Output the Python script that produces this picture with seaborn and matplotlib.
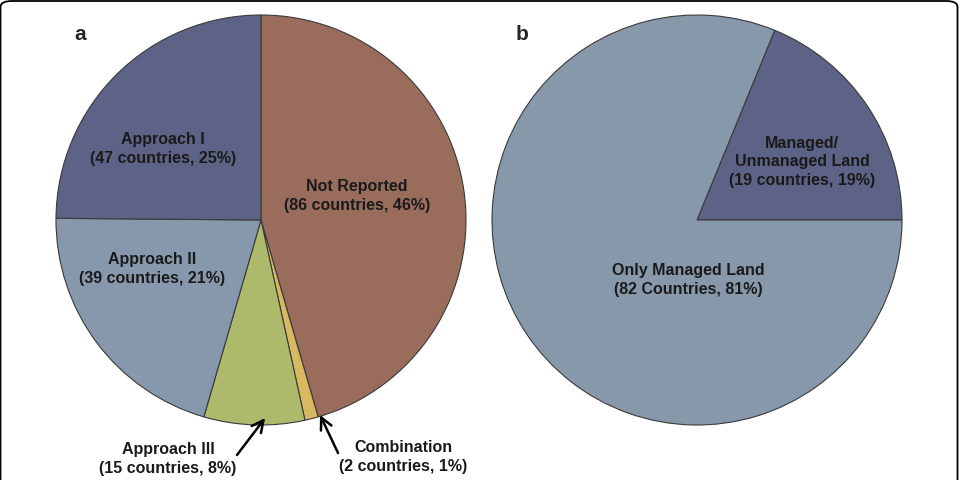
import numpy as np
import seaborn as sns
import matplotlib.pyplot as plt
from matplotlib.patches import FancyBboxPatch

# Data
a_labels = ["Not Reported", "Combination", "Approach III", "Approach II", "Approach I"]
a_counts = [86, 2, 15, 39, 47]
a_pcts = [46, 1, 8, 21, 25]
a_colors = ["#9a6c5b", "#d8b860", "#adba6b", "#8798ad", "#5d6386"]

b_labels = ["Managed/\nUnmanaged Land", "Only Managed Land"]
b_counts = [19, 82]
b_pcts = [19, 81]
b_word = ["countries", "Countries"]
b_colors = ["#5d6386", "#8898ab"]

sns.set_theme(style="white")
plt.rcParams['font.family'] = ['Liberation Sans', 'DejaVu Sans']

W, H = 963, 480
fig = plt.figure(figsize=(W / 100, H / 100), dpi=100)

R = 205
def add_pie_axes(cx, cy):
    ax = fig.add_axes([(cx - R) / W, (H - cy - R) / H, 2 * R / W, 2 * R / H])
    ax.axis("off")
    return ax

def fix_limits(ax):
    # pie() resets the limits, so set them afterwards
    ax.set_xlim(-1, 1)
    ax.set_ylim(-1, 1)
    ax.set_aspect("equal")

wedge_kw = dict(edgecolor="#3a3a3a", linewidth=0.8)
txt_kw = dict(fontsize=11.5, fontweight="bold", color="#1a1a1a", ha="center", va="center", linespacing=1.3)

def lab(name, n, p, word="countries"):
    return f"{name}\n({n} {word}, {p}%)"

# pie a
ax1 = add_pie_axes(261, 220)
ax1.pie(a_counts, colors=a_colors, startangle=90, counterclock=False, radius=1,
        wedgeprops=wedge_kw)
fix_limits(ax1)

ax1.text(0.468, 0.117, lab(a_labels[0], a_counts[0], a_pcts[0]), **txt_kw)
ax1.text(-0.478, 0.346, lab(a_labels[4], a_counts[4], a_pcts[4]), **txt_kw)
ax1.text(-0.532, -0.239, lab(a_labels[3], a_counts[3], a_pcts[3]), **txt_kw)

arrow_kw = dict(arrowstyle="->,head_length=0.7,head_width=0.35", color="black", lw=1.8,
                shrinkA=0, shrinkB=0)
ax1.annotate("", xy=(0.02, -0.966), xytext=(-0.117, -1.146), arrowprops=arrow_kw,
             annotation_clip=False)
ax1.annotate("", xy=(0.288, -0.951), xytext=(0.376, -1.137), arrowprops=arrow_kw,
             annotation_clip=False)
ax1.text(-0.454, -1.165, lab(a_labels[2], a_counts[2], a_pcts[2]), clip_on=False, **txt_kw)
ax1.text(0.693, -1.155, lab(a_labels[1], a_counts[1], a_pcts[1]), clip_on=False, **txt_kw)

# pie b
ax2 = add_pie_axes(697, 220)
ax2.pie(b_counts, colors=b_colors, startangle=0, counterclock=True, radius=1,
        wedgeprops=wedge_kw)
fix_limits(ax2)
ax2.text(0.512, 0.283, lab(b_labels[0], b_counts[0], b_pcts[0], b_word[0]), **txt_kw)
ax2.text(-0.044, -0.293, lab(b_labels[1], b_counts[1], b_pcts[1], b_word[1]), **txt_kw)

# panel letters
fig.text(80 / W, 1 - 35 / H, "a", fontsize=15, fontweight="bold", ha="center", va="center")
fig.text(522 / W, 1 - 35 / H, "b", fontsize=15, fontweight="bold", ha="center", va="center")

# outer frame (bottom edge runs off the image)
frame = FancyBboxPatch((0.5 / W, -20 / H), 957 / W, 1 + 19 / H,
                       boxstyle="round,pad=0,rounding_size=0.012",
                       transform=fig.transFigure, fill=False, edgecolor="black", lw=1.3)
fig.patches.append(frame)

plt.savefig("out.png", dpi=100)
